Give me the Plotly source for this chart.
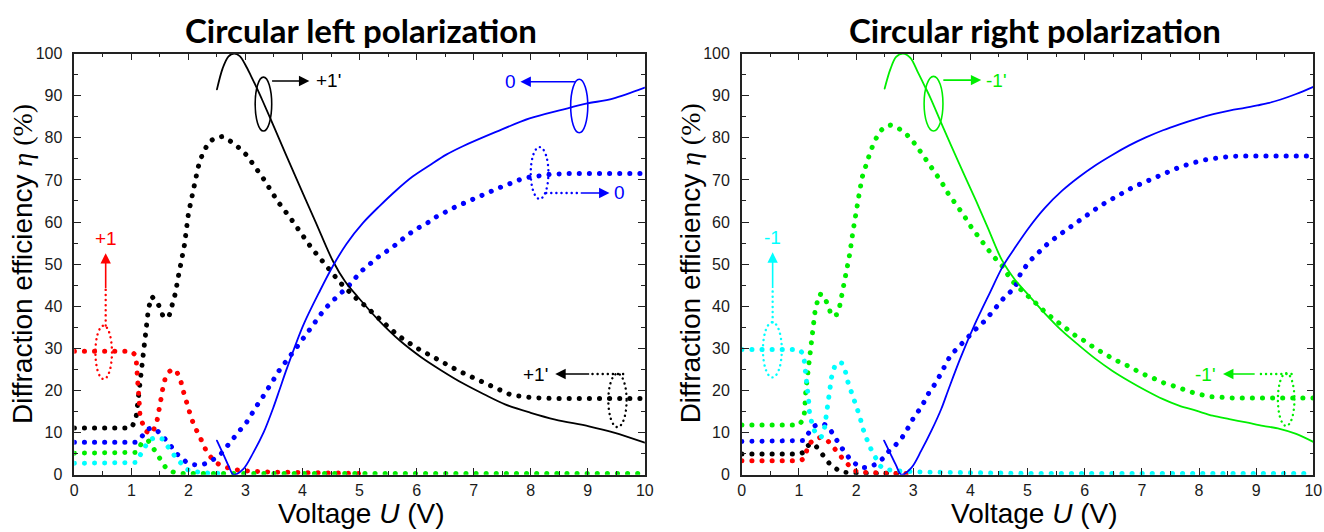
import plotly.graph_objects as go

# ---------------- DATA ----------------
# Left panel: circular left polarization
L_black_dot_x = [0, 1.0, 1.08, 1.1, 1.15, 1.2, 1.25, 1.3, 1.36, 1.45, 1.51, 1.56, 1.66, 1.71, 1.77, 1.83, 1.86, 1.93, 2.0, 2.08,
                 2.17, 2.25, 2.36, 2.47, 2.59, 2.8, 3.02, 3.31, 3.57, 3.79, 3.94, 4.16, 4.38, 4.66, 4.93, 5.04, 5.38, 5.67, 6.0, 6.37,
                 6.7, 7.03, 7.33, 7.66, 8.03, 8.4, 10.0]
L_black_dot_y = [11.1, 11.1, 13.2, 15.5, 22, 28.5, 34.5, 39.5, 42.3, 41, 39.4, 37.4, 37.6, 39.8, 43, 47.5, 49.8, 54.5, 62, 67.6,
                 73, 76.3, 79, 80, 80.3, 78.7, 75.9, 70.4, 64.8, 60.9, 58.1, 53.8, 50.2, 45.6, 42, 40.8, 36.6, 33.1, 30.1, 27.3,
                 24.9, 22.8, 20.9, 18.9, 18.3, 18.1, 18.1]

L_black_line_x = [2.5, 2.6, 2.7, 2.8, 2.9, 3.0, 3.1, 3.2, 3.3, 3.5, 3.87, 4.23, 4.53, 4.75, 4.97, 5.34, 5.71, 6.08, 6.44, 6.81,
                  7.18, 7.55, 8.0, 8.43, 9.02, 9.46, 10.0]
L_black_line_y = [91.5, 96.5, 99.3, 100, 99.4, 97.3, 94.6, 91.8, 88.8, 82.6, 71.0, 60.0, 50.8, 45.8, 42.2, 36.6, 31.8, 27.9, 24.7, 21.7,
                  19.1, 16.7, 14.7, 13.1, 11.5, 10, 7.6]

L_blue_line_x = [2.5, 2.6, 2.7, 2.79, 2.96, 3.14, 3.32, 3.49, 3.6, 3.72, 4.01, 4.31, 4.53, 4.77, 5.06, 5.35, 5.64, 5.93, 6.23, 6.52,
                 6.81, 7.39, 7.98, 8.56, 8.97, 9.44, 10.0]
L_blue_line_y = [8.1, 5.2, 2.2, 0, 1.3, 5.3, 10.1, 16, 20.3, 25, 35.4, 43.8, 49.5, 54.8, 59.8, 63.8, 67.5, 70.8, 73.5, 76,
                 78, 81.4, 84.6, 86.7, 88.1, 89.3, 91.9]

L_blue_dot_x = [0, 1.0, 1.08, 1.13, 1.19, 1.24, 1.3, 1.37, 1.45, 1.54, 1.62, 1.71, 1.8, 1.89, 1.97, 2.09, 2.21, 2.32, 2.41, 2.5,
                2.58, 2.68, 2.79, 2.9, 3.0, 3.1, 3.2, 3.3, 3.4, 3.49, 3.55, 3.72, 3.9, 4.09, 4.23, 4.38, 4.53, 4.68, 4.82, 5.02,
                5.2, 5.38, 5.53, 5.68, 5.85, 6.0, 6.18, 6.34, 6.5, 6.68, 6.85, 7.01, 7.17, 7.35, 7.51, 7.67, 7.85, 8.0, 8.18, 8.34,
                8.6, 10.0]
L_blue_dot_y = [7.7, 7.7, 7.7, 8.2, 9.3, 10.1, 10.9, 11.1, 10.5, 9.3, 8.1, 6.5, 4.9, 3.7, 2.9, 2.4, 2.3, 2.7, 3.3, 4.1,
                5.1, 6.9, 8.5, 10.5, 12, 14.4, 16.4, 18.4, 20.4, 22.5, 24.0, 27.3, 30.3, 33.8, 36.6, 39.2, 41.3, 43.3, 45, 48.2,
                50.3, 52.3, 53.5, 55.2, 57, 58.4, 59.7, 61.2, 62.4, 63.6, 64.6, 65.6, 66.6, 67.5, 68.5, 69.3, 70.3, 70.7, 71.1, 71.3,
                71.5, 71.5]

L_red_dot_x = [0, 1.0, 1.08, 1.1, 1.11, 1.13, 1.14, 1.15, 1.19, 1.24, 1.33, 1.39, 1.45, 1.49, 1.52, 1.55, 1.59, 1.65, 1.72, 1.8,
               1.86, 1.89, 1.94, 1.97, 2.03, 2.09, 2.15, 2.21, 2.26, 2.31, 2.37, 2.44, 2.53, 2.67, 2.82, 3.0, 3.5, 4.0, 4.5, 5.0]
L_red_dot_y = [29.3, 29.3, 28.3, 25.9, 22.3, 18.8, 16.4, 14.4, 12.4, 10.5, 9.7, 10.6, 12.8, 15.2, 18, 20.4, 22.7, 24.3, 25.1, 24.3,
               22.7, 20.8, 18.4, 16.4, 14.4, 12, 10.5, 8.9, 7.3, 5.7, 4.5, 3.3, 2.5, 1.7, 1.2, 0.9, 0.6, 0.45, 0.35, 0.3]

L_green_dot_x = [0, 1.0, 1.08, 1.13, 1.17, 1.24, 1.3, 1.36, 1.42, 1.48, 1.54, 1.62, 1.74, 1.9, 10.0]
L_green_dot_y = [5.1, 5.1, 5.3, 6.1, 7.3, 8.2, 8.0, 6.8, 5.5, 4.1, 2.7, 1.3, 0.6, 0.3, 0.3]

L_cyan_dot_x = [0, 1.0, 1.08, 1.13, 1.19, 1.27, 1.36, 1.45, 1.54, 1.62, 1.71, 1.8, 1.89, 1.97, 2.06, 2.3, 2.6]
L_cyan_dot_y = [2.7, 2.7, 2.9, 4.1, 5.7, 7.3, 8.5, 8.9, 8.5, 6.9, 5.3, 3.7, 2.5, 1.3, 0.8, 0.4, 0.3]

# Right panel: circular right polarization
R_green_dot_x = [0, 1.0, 1.08, 1.1, 1.12, 1.14, 1.15, 1.17, 1.19, 1.21, 1.24, 1.27, 1.28, 1.32, 1.36, 1.43, 1.49, 1.53, 1.56, 1.66,
                 1.71, 1.74, 1.77, 1.81, 1.84, 1.89, 1.94, 2.0, 2.06, 2.11, 2.17, 2.25, 2.32, 2.41, 2.5, 2.6, 2.74, 2.89, 3.04, 3.19,
                 3.34, 3.49, 3.61, 3.75, 3.88, 4.01, 4.12, 4.25, 4.38, 4.56, 4.71, 4.87, 5.0, 5.18, 5.34, 5.52, 5.68, 5.85, 6.02, 6.18,
                 6.35, 6.52, 6.69, 6.85, 7.02, 7.19, 7.36, 7.53, 7.69, 7.87, 8.04, 8.21, 8.37, 8.6, 10.0]
R_green_dot_y = [11.8, 11.8, 13.2, 15.2, 20, 22.3, 24.7, 27.1, 29.1, 31.5, 33.8, 36.2, 38.6, 41, 42.9, 42.6, 40.6, 39.6, 37.8, 38,
                 39.8, 41.8, 43.7, 46.5, 48.5, 52.5, 57.3, 62.8, 67.2, 70.8, 73.5, 76.7, 79.1, 81.4, 82.6, 83, 82.3, 80.7, 78.4, 75.5,
                 72.8, 69.6, 66.8, 64.4, 61.7, 58.9, 56.9, 54.5, 52.2, 49.5, 46.3, 44.1, 42.6, 40.3, 38.2, 36.4, 34.6, 32.9, 31.6, 30,
                 28.7, 27.3, 26.3, 25.1, 23.9, 23, 21.9, 21.2, 20.4, 19.6, 19, 18.5, 18.4, 18.2, 18.2]

R_green_line_x = [2.5, 2.6, 2.7, 2.82, 2.95, 3.08, 3.2, 3.3, 3.5, 3.8, 4.1, 4.3, 4.55, 4.78, 5.02, 5.31, 5.6, 5.9, 6.19, 6.48,
                  6.78, 7.07, 7.36, 7.65, 7.95, 8.24, 8.53, 8.83, 9.12, 9.41, 9.7, 10.0]
R_green_line_y = [91.7, 96.3, 99.2, 100, 99, 95.6, 92.3, 89.5, 83.2, 74, 65, 58.8, 51, 46.3, 42.6, 38.2, 34.2, 30.7, 27.5, 24.7,
                  22.2, 20, 18, 16.4, 15.2, 14, 13.2, 12.4, 11.6, 10.9, 9.7, 7.8]

R_blue_line_x = [2.49, 2.6, 2.7, 2.79, 2.97, 3.14, 3.32, 3.49, 3.61, 3.82, 4.08, 4.34, 4.56, 4.8, 5.02, 5.3, 5.61, 5.9, 6.19, 6.49,
                 6.78, 7.07, 7.37, 7.66, 7.96, 8.25, 8.55, 8.8, 9.02, 9.23, 9.43, 9.7, 10.0]
R_blue_line_y = [8.1, 5.0, 2.2, 0, 1.7, 5.7, 10.5, 15.6, 20, 27.5, 35.8, 43.2, 49.3, 54.3, 58.6, 63.3, 67.5, 70.7, 73.5, 76,
                 78.2, 80.1, 81.8, 83.2, 84.5, 85.6, 86.5, 87.1, 87.7, 88.3, 89.1, 90.4, 92.1]

R_blue_dot_x = [0, 1.0, 1.08, 1.12, 1.18, 1.24, 1.33, 1.45, 1.52, 1.59, 1.68, 1.74, 1.83, 1.91, 2.0, 2.09, 2.2, 2.35, 2.49, 2.58,
                2.68, 2.79, 2.9, 3.01, 3.14, 3.28, 3.4, 3.5, 3.65, 3.82, 3.93, 4.08, 4.25, 4.41, 4.6, 4.78, 4.87, 5.02, 5.18, 5.34,
                5.52, 5.68, 5.85, 6.02, 6.18, 6.35, 6.52, 6.69, 6.85, 7.02, 7.19, 7.36, 7.53, 7.69, 7.87, 8.04, 8.21, 8.37, 8.54, 8.8,
                10.0]
R_blue_dot_y = [7.9, 7.9, 8.1, 8.9, 10.1, 11.3, 12, 11.9, 11.3, 9.7, 8.1, 6.5, 4.9, 3.3, 2.5, 1.7, 1.7, 2.5, 4.1, 5.7,
                6.9, 8.5, 10.9, 13.6, 16, 19.6, 21.9, 24.5, 28.3, 30.7, 32.3, 34.4, 36.5, 39, 42.2, 44.4, 47.5, 50.5, 52.7, 54.7,
                56.6, 58.2, 60, 61.4, 63, 64.5, 65.9, 67.1, 68.3, 69.3, 70.4, 71.5, 72.3, 73.2, 74, 74.6, 75, 75.4, 75.6, 75.7,
                75.7]

R_cyan_dot_x = [0, 1.0, 1.08, 1.1, 1.12, 1.14, 1.15, 1.17, 1.18, 1.2, 1.24, 1.3, 1.39, 1.45, 1.47, 1.5, 1.52, 1.54, 1.57, 1.62,
                1.68, 1.75, 1.81, 1.85, 1.91, 1.97, 2.02, 2.07, 2.11, 2.17, 2.23, 2.29, 2.35, 2.42, 2.49, 2.58, 2.8, 3.2, 3.6, 4.2,
                5.0, 10.0]
R_cyan_dot_y = [29.7, 29.7, 28.7, 26.7, 24.7, 22.3, 20, 17.6, 15.2, 13.2, 11.3, 9.7, 8.9, 11.3, 13.6, 16, 18.4, 20.8, 23.1, 25.5,
                26.7, 26.5, 24.7, 22.3, 20, 17.6, 15.2, 13.6, 11.3, 8.9, 6.9, 5.3, 3.7, 2.1, 1.3, 1.1, 0.8, 0.6, 0.5, 0.4,
                0.3, 0.3]

R_red_dot_x = [0, 1.0, 1.08, 1.12, 1.18, 1.27, 1.39, 1.5, 1.59, 1.68, 1.77, 1.85, 1.94, 2.03, 2.3, 2.6, 3.0]
R_red_dot_y = [3.3, 3.3, 3.7, 5.3, 7.3, 8.5, 8.9, 8.1, 6.9, 5.3, 3.7, 2.5, 1.3, 0.6, 0.4, 0.3, 0.3]

R_black_dot_x = [0, 1.0, 1.08, 1.12, 1.21, 1.28, 1.36, 1.45, 1.53, 1.62, 1.74, 2.0, 2.5, 2.8]
R_black_dot_y = [4.9, 4.9, 5.3, 6.5, 7.4, 7.1, 5.7, 4.1, 2.7, 1.7, 0.6, 0.4, 0.3, 0.3]

X_TICKS = list(range(0, 11))
Y_TICKS = list(range(0, 101, 10))
TITLES = ["Circular left polarization", "Circular right polarization"]

# ---------------- STYLE ----------------
W, H = 1324, 532
BLACK, BLUE, RED, GREEN, CYAN = "#000000", "#0000ff", "#ff0000", "#00ee00", "#00ffff"
DOT_DASH = "0.1px,10px"
DOT_W = 5.0
SMALL_DASH = "0.1px,5px"


def pxx(p):
    return p / W


def pxy(p):
    return (H - p) / H


fig = go.Figure()


def dotted(x, y, color, xa, ya):
    fig.add_trace(go.Scatter(x=x, y=y, mode="lines", xaxis=xa, yaxis=ya,
                             line=dict(color=color, width=DOT_W, dash=DOT_DASH),
                             hoverinfo="skip", showlegend=False))


def solid(x, y, color, xa, ya):
    fig.add_trace(go.Scatter(x=x, y=y, mode="lines", xaxis=xa, yaxis=ya,
                             line=dict(color=color, width=1.8, shape="spline", smoothing=0.9),
                             hoverinfo="skip", showlegend=False))


# Left panel traces
dotted(L_black_dot_x, L_black_dot_y, BLACK, "x", "y")
dotted(L_red_dot_x, L_red_dot_y, RED, "x", "y")
dotted(L_blue_dot_x, L_blue_dot_y, BLUE, "x", "y")
dotted(L_cyan_dot_x, L_cyan_dot_y, CYAN, "x", "y")
dotted(L_green_dot_x, L_green_dot_y, GREEN, "x", "y")
solid(L_black_line_x, L_black_line_y, BLACK, "x", "y")
solid(L_blue_line_x, L_blue_line_y, BLUE, "x", "y")

# Right panel traces
dotted(R_green_dot_x, R_green_dot_y, GREEN, "x2", "y2")
dotted(R_black_dot_x, R_black_dot_y, BLACK, "x2", "y2")
dotted(R_red_dot_x, R_red_dot_y, RED, "x2", "y2")
dotted(R_blue_dot_x, R_blue_dot_y, BLUE, "x2", "y2")
dotted(R_cyan_dot_x, R_cyan_dot_y, CYAN, "x2", "y2")
solid(R_green_line_x, R_green_line_y, GREEN, "x2", "y2")
solid(R_blue_line_x, R_blue_line_y, BLUE, "x2", "y2")

shapes = []
annotations = []
LABEL_FONT = dict(family="Liberation Sans, Arial", size=19)


def ellipse(xr, yr, x0, x1, y0, y1, color, dotted_line=False):
    shapes.append(dict(type="circle", xref=xr, yref=yr, x0=x0, x1=x1, y0=y0, y1=y1,
                       line=dict(color=color, width=2.4 if dotted_line else 1.6,
                                 dash=SMALL_DASH if dotted_line else "solid"),
                       fillcolor="rgba(0,0,0,0)", layer="above"))


def dline(xr, yr, x0, y0, x1, y1, color):
    shapes.append(dict(type="line", xref=xr, yref=yr, x0=x0, x1=x1, y0=y0, y1=y1,
                       line=dict(color=color, width=2.4, dash=SMALL_DASH), layer="above"))


def arrow(xr, yr, tx, ty, hx, hy, color):
    annotations.append(dict(xref=xr, yref=yr, axref=xr, ayref=yr, x=hx, y=hy, ax=tx, ay=ty,
                            text="", showarrow=True, arrowhead=2, arrowsize=1.3, arrowwidth=1.6,
                            arrowcolor=color, standoff=0, startstandoff=0))


def label(xr, yr, x, y, text, color):
    annotations.append(dict(xref=xr, yref=yr, x=x, y=y, text=text, showarrow=False,
                            font=dict(color=color, **LABEL_FONT), xanchor="center", yanchor="middle"))


# Left panel annotations
ellipse("x", "y", 3.17, 3.46, 81.6, 94.4, BLACK)
arrow("x", "y", 3.44, 93.5, 4.12, 93.5, BLACK)
label("x", "y", 4.45, 93.5, "+1'", BLACK)

ellipse("x", "y", 8.70, 9.00, 81.2, 93.9, BLUE)
arrow("x", "y", 8.80, 93.3, 7.82, 93.3, BLUE)
label("x", "y", 7.64, 93.3, "0", BLUE)

ellipse("x", "y", 8.00, 8.31, 65.5, 77.8, BLUE, True)
dline("x", "y", 8.27, 66.9, 8.85, 66.9, BLUE)
arrow("x", "y", 8.85, 66.9, 9.38, 66.9, BLUE)
label("x", "y", 9.56, 66.9, "0", BLUE)

ellipse("x", "y", 0.37, 0.66, 22.7, 35.4, RED, True)
dline("x", "y", 0.55, 35.4, 0.55, 44.0, RED)
arrow("x", "y", 0.55, 44.0, 0.55, 52.6, RED)
label("x", "y", 0.55, 56.0, "+1", RED)

ellipse("x", "y", 9.36, 9.68, 11.3, 24.0, BLACK, True)
dline("x", "y", 9.62, 23.9, 9.05, 23.9, BLACK)
arrow("x", "y", 9.05, 23.9, 8.43, 23.9, BLACK)
label("x", "y", 8.08, 23.9, "+1'", BLACK)

# Right panel annotations
ellipse("x2", "y2", 3.19, 3.52, 81.6, 94.6, GREEN)
arrow("x2", "y2", 3.50, 93.7, 4.19, 93.7, GREEN)
label("x2", "y2", 4.46, 93.7, "-1'", GREEN)

ellipse("x2", "y2", 0.37, 0.70, 23.1, 36.2, CYAN, True)
dline("x2", "y2", 0.54, 36.2, 0.54, 44.0, CYAN)
arrow("x2", "y2", 0.54, 44.0, 0.54, 52.8, CYAN)
label("x2", "y2", 0.54, 56.3, "-1", CYAN)

ellipse("x2", "y2", 9.38, 9.67, 11.6, 24.1, GREEN, True)
dline("x2", "y2", 9.62, 23.9, 9.0, 23.9, GREEN)
arrow("x2", "y2", 9.0, 23.9, 8.42, 23.9, GREEN)
label("x2", "y2", 8.12, 23.9, "-1'", GREEN)

# Titles and axis titles
AX_FONT = dict(family="Liberation Sans, Arial", size=28, color="#000000")
YTITLE = ("Diffraction efficiency <span style='font-family:Liberation Serif, Times New Roman'>"
          "<i>η</i> (%)</span>")
XTITLE = "Voltage <i>U</i> (V)"
for cx, yx, ttl in [(360.6, 18.6, TITLES[0]), (1040.8, 693.6, TITLES[1])]:
    annotations.append(dict(xref="paper", yref="paper", x=pxx(cx), y=pxy(23), text="<b>" + ttl + "</b>",
                            showarrow=False, xanchor="center", yanchor="middle",
                            font=dict(family="Lato", size=33, color="#000000")))
    annotations.append(dict(xref="paper", yref="paper", x=pxx(cx), y=pxy(522), text=XTITLE,
                            showarrow=False, xanchor="center", yanchor="middle", font=AX_FONT))
    annotations.append(dict(xref="paper", yref="paper", x=pxx(yx), y=pxy(264), text=YTITLE,
                            showarrow=False, xanchor="center", yanchor="middle", textangle=-90, font=AX_FONT))

common = dict(showline=True, linecolor="#222222", linewidth=1.5, mirror="allticks",
              ticks="inside", ticklen=7, tickwidth=1.2, tickcolor="#222222",
              showgrid=False, zeroline=False,
              tickfont=dict(family="Liberation Sans, Arial", size=16, color="#1a1a1a"))
xcommon = dict(common, range=[0, 10], tickvals=X_TICKS, ticktext=[str(v) for v in X_TICKS], ticklabelstandoff=0,
               minor=dict(ticks="inside", ticklen=4, dtick=0.5, tick0=0, tickcolor="#222222", tickwidth=1.2))
ycommon = dict(common, range=[0, 100], tickvals=Y_TICKS, ticktext=[str(v) for v in Y_TICKS], ticklabelstandoff=7,
               minor=dict(ticks="inside", ticklen=4, dtick=5, tick0=0, tickcolor="#222222", tickwidth=1.2))

ydom = [pxy(482.1), pxy(47.1)]
fig.update_layout(
    width=W, height=H, margin=dict(l=0, r=0, t=0, b=0), autosize=False,
    paper_bgcolor="white", plot_bgcolor="white", showlegend=False,
    xaxis=dict(xcommon, domain=[pxx(71.0), pxx(647.2)], anchor="y"),
    yaxis=dict(ycommon, domain=ydom, anchor="x"),
    xaxis2=dict(xcommon, domain=[pxx(745.1), pxx(1322.3)], anchor="y2"),
    yaxis2=dict(ycommon, domain=ydom, anchor="x2"),
    shapes=shapes, annotations=annotations,
)

POST = """
document.documentElement.style.margin='0';
document.documentElement.style.padding='0';
document.body.style.margin='0';
document.body.style.padding='0';
document.body.style.overflow='hidden';
var st = document.createElement('style');
st.textContent = '.scatterlayer .js-line{stroke-linecap:round !important;} .shapelayer path{stroke-linecap:round !important;}';
document.head.appendChild(st);
"""
fig.write_html("out.html", post_script=POST, config={"displayModeBar": False})
